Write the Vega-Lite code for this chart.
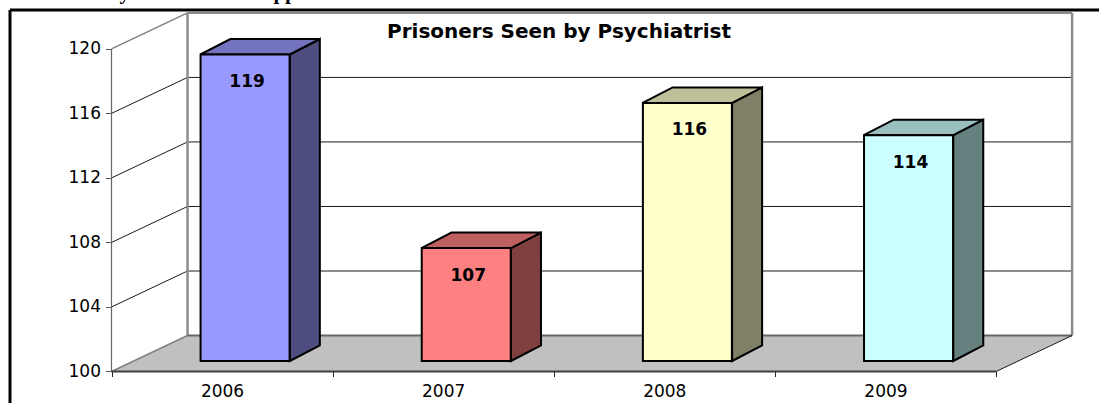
{"$schema":"https://vega.github.io/schema/vega-lite/v6.json","width":1099,"height":403,"padding":0,"autosize":{"type":"none"},"background":"#ffffff","view":{"stroke":null},
"title":{"text":"Prisoners Seen by Psychiatrist","anchor":"start","dx":387,"offset":-60,"font":"DejaVu Sans","fontSize":20,"fontWeight":"bold","color":"#000000"},
"config":{"view":{"stroke":null}},
"datasets":{
"bars":[{"year":2006,"value":119,"face":"2006 front"},{"year":2007,"value":107,"face":"2007 front"},{"year":2008,"value":116,"face":"2008 front"},{"year":2009,"value":114,"face":"2009 front"}],
"floor":[{"x":2005.5,"y":100,"y2":100},{"x":2005.8437,"y":102.23,"y2":100},{"x":2009.5,"y":102.23,"y2":100},{"x":2009.8437,"y":102.23,"y2":102.23}],
"lines":[
{"kind":"frame","x":2005.041,"x2":2009.968,"y":122.41,"y2":122.41},
{"kind":"frame","x":2005.041,"x2":2005.041,"y":122.41,"y2":98.05},
{"kind":"grid","x":2005.8437,"x2":2009.8437,"y":106.23,"y2":106.23},
{"kind":"grid","x":2005.8437,"x2":2009.8437,"y":110.23,"y2":110.23},
{"kind":"grid","x":2005.8437,"x2":2009.8437,"y":114.23,"y2":114.23},
{"kind":"grid","x":2005.8437,"x2":2009.8437,"y":118.23,"y2":118.23},
{"kind":"grid","x":2005.5,"x2":2005.8437,"y":104,"y2":106.23},
{"kind":"grid","x":2005.5,"x2":2005.8437,"y":108,"y2":110.23},
{"kind":"grid","x":2005.5,"x2":2005.8437,"y":112,"y2":114.23},
{"kind":"grid","x":2005.5,"x2":2005.8437,"y":116,"y2":118.23},
{"kind":"wallTop","x":2005.8437,"x2":2009.8437,"y":122.23,"y2":122.23},
{"kind":"wallSide","x":2005.8437,"x2":2005.8437,"y":102.23,"y2":122.23},
{"kind":"wallSide","x":2009.8437,"x2":2009.8437,"y":102.23,"y2":122.23},
{"kind":"slant","x":2005.5,"x2":2005.8437,"y":120,"y2":122.23},
{"kind":"slant","x":2005.5,"x2":2005.8437,"y":100,"y2":102.23},
{"kind":"yAxis","x":2005.5,"x2":2005.5,"y":100,"y2":120},
{"kind":"floorBack","x":2005.8437,"x2":2009.8437,"y":102.23,"y2":102.23},
{"kind":"floorFront","x":2005.5,"x2":2009.5,"y":100,"y2":100},
{"kind":"floorRight","x":2009.5,"x2":2009.8437,"y":100,"y2":102.23}
],
"faces":[
{"face":"2006 side","x":2006.3063,"y":119.651,"y2":100.651},{"face":"2006 side","x":2006.442,"y":120.612,"y2":101.612},
{"face":"2007 side","x":2007.3063,"y":107.651,"y2":100.651},{"face":"2007 side","x":2007.442,"y":108.612,"y2":101.612},
{"face":"2008 side","x":2008.3063,"y":116.651,"y2":100.651},{"face":"2008 side","x":2008.442,"y":117.612,"y2":101.612},
{"face":"2009 side","x":2009.3063,"y":114.651,"y2":100.651},{"face":"2009 side","x":2009.442,"y":115.612,"y2":101.612},
{"face":"2006 top","x":2005.9017,"y":119.651,"y2":119.651},{"face":"2006 top","x":2006.0374,"y":120.612,"y2":119.651},{"face":"2006 top","x":2006.3063,"y":120.612,"y2":119.651},{"face":"2006 top","x":2006.442,"y":120.612,"y2":120.612},
{"face":"2007 top","x":2006.9017,"y":107.651,"y2":107.651},{"face":"2007 top","x":2007.0374,"y":108.612,"y2":107.651},{"face":"2007 top","x":2007.3063,"y":108.612,"y2":107.651},{"face":"2007 top","x":2007.442,"y":108.612,"y2":108.612},
{"face":"2008 top","x":2007.9017,"y":116.651,"y2":116.651},{"face":"2008 top","x":2008.0374,"y":117.612,"y2":116.651},{"face":"2008 top","x":2008.3063,"y":117.612,"y2":116.651},{"face":"2008 top","x":2008.442,"y":117.612,"y2":117.612},
{"face":"2009 top","x":2008.9017,"y":114.651,"y2":114.651},{"face":"2009 top","x":2009.0374,"y":115.612,"y2":114.651},{"face":"2009 top","x":2009.3063,"y":115.612,"y2":114.651},{"face":"2009 top","x":2009.442,"y":115.612,"y2":115.612}
],
"cut":[{"label":"y","x":2005.56,"y":123.09},{"label":"pp","x":2006.285,"y":123.09}]
},
"layer":[
{"data":{"name":"floor"},"mark":{"type":"area","orient":"vertical","color":"#c0c0c0","interpolate":"linear"},
"encoding":{
"x":{"field":"x","type":"quantitative","scale":{"domain":[2004.9958,2009.9653],"range":[0,1099],"nice":false,"zero":false,"padding":0},
"axis":{"title":null,"grid":false,"domain":false,"offset":-31.5,"values":[2005.5,2006.5,2007.5,2008.5,2009.5],"labelExpr":"datum.value < 2009 ? format(datum.value + 0.5, 'd') : ''","labelOffset":110.5,"labelBound":false,"labelFlush":false,"labelOverlap":false,"tickSize":5,"tickColor":"#222222","labelPadding":7,"labelFont":"DejaVu Sans","labelFontSize":17,"labelColor":"#000000"}},
"y":{"field":"y","type":"quantitative","scale":{"domain":[98.047,123.03],"range":[403,0],"nice":false,"zero":false},
"axis":{"title":null,"grid":false,"domain":false,"offset":-111.5,"values":[100,104,108,112,116,120],"tickSize":6,"tickColor":"#555555","labelPadding":5,"labelFont":"DejaVu Sans","labelFontSize":17,"labelColor":"#000000","labelBound":false,"labelFlush":false,"labelOverlap":false}},
"y2":{"field":"y2"}}},
{"data":{"name":"lines"},"mark":{"type":"rule"},
"encoding":{
"x":{"field":"x","type":"quantitative"},"x2":{"field":"x2"},"y":{"field":"y","type":"quantitative"},"y2":{"field":"y2"},
"color":{"field":"kind","type":"nominal","legend":null,"scale":{"domain":["frame","grid","wallTop","wallSide","slant","yAxis","floorBack","floorFront","floorRight"],"range":["#000000","#1a1a1a","#8c8c8c","#8c8c8c","#808080","#666666","#666666","#404040","#1a1a1a"]}},
"strokeWidth":{"field":"kind","type":"nominal","legend":null,"scale":{"type":"ordinal","domain":["frame","grid","wallTop","wallSide","slant","yAxis","floorBack","floorFront","floorRight"],"range":[3,1,2,2.5,1.5,1.2,2,2,1]}}}},
{"data":{"name":"faces"},"mark":{"type":"area","orient":"vertical","interpolate":"linear","stroke":"#000000","strokeWidth":2,"strokeJoin":"miter"},
"encoding":{
"x":{"field":"x","type":"quantitative"},"y":{"field":"y","type":"quantitative"},"y2":{"field":"y2"},
"fill":{"field":"face","type":"nominal","legend":null,"scale":{"domain":["2006 front","2007 front","2008 front","2009 front","2006 side","2007 side","2008 side","2009 side","2006 top","2007 top","2008 top","2009 top"],"range":["#9999ff","#ff8080","#ffffcc","#ccffff","#4d4d80","#804040","#808066","#668080","#7373bf","#bf6060","#bfbf99","#99bfbf"]}},
"detail":{"field":"face"}}},
{"data":{"name":"bars"},"mark":{"type":"bar","orient":"vertical","size":89,"xOffset":23,"yOffset":-10.5,"y2Offset":-10.5,"stroke":"#000000","strokeWidth":2},
"encoding":{
"x":{"field":"year","type":"quantitative"},"y":{"field":"value","type":"quantitative"},"y2":{"datum":100},
"fill":{"field":"face","type":"nominal","legend":null}}},
{"data":{"name":"bars"},"mark":{"type":"text","font":"DejaVu Sans","fontWeight":"bold","fontSize":17,"color":"#000000","align":"center","baseline":"middle","xOffset":25,"yOffset":17},
"encoding":{
"x":{"field":"year","type":"quantitative"},"y":{"field":"value","type":"quantitative"},"text":{"field":"value","type":"quantitative","format":"d"}}},
{"data":{"name":"cut"},"mark":{"type":"text","font":"Liberation Serif","fontWeight":"bold","fontSize":21,"color":"#000000","align":"center","baseline":"alphabetic"},
"encoding":{
"x":{"field":"x","type":"quantitative"},"y":{"field":"y","type":"quantitative"},"text":{"field":"label"}}}
]}
